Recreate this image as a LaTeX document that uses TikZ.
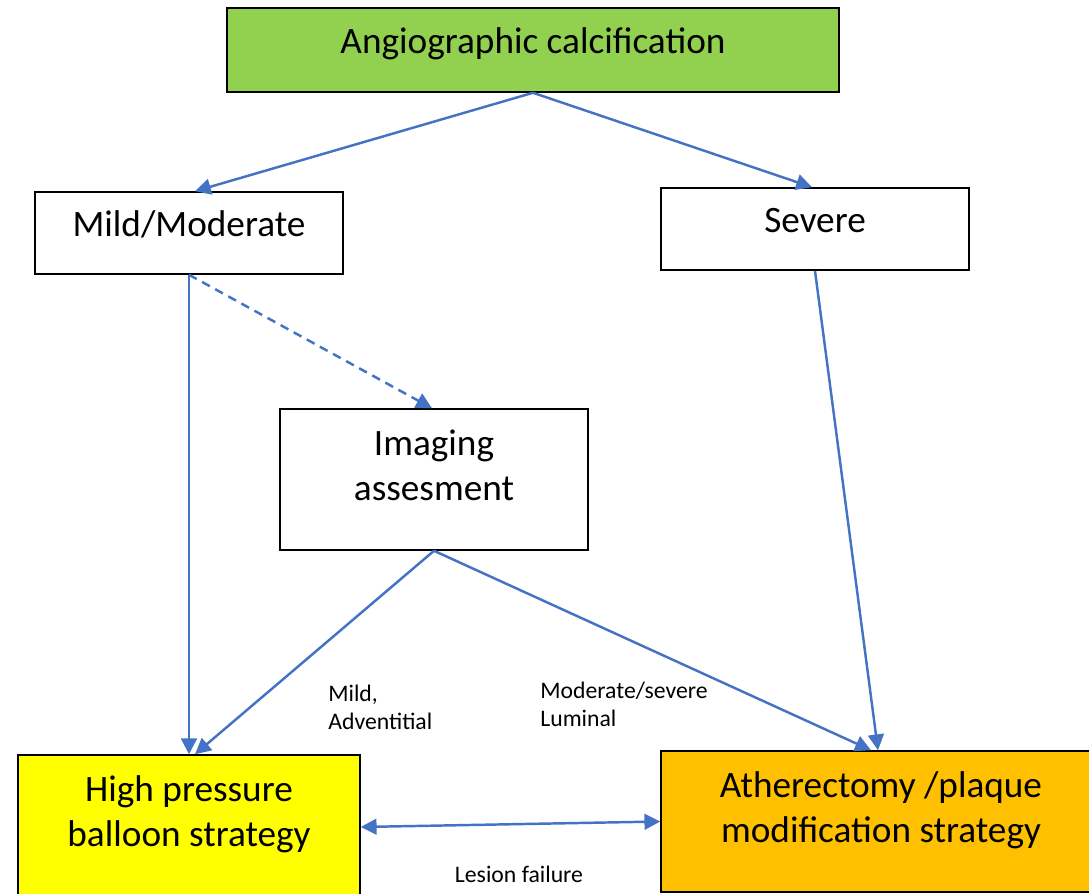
\documentclass[tikz,border=0pt]{standalone}
\usepackage{fontspec}
\setmainfont{Carlito}
\usetikzlibrary{arrows.meta}
\definecolor{calcgreen}{HTML}{92D050}
\definecolor{balloonyellow}{HTML}{FFFF00}
\definecolor{atheroorange}{HTML}{FFC000}
\definecolor{flowblue}{HTML}{4472C4}
\newcommand{\cstack}[1]{\begin{tabular}[t]{@{}c@{}}#1\end{tabular}}
\newcommand{\lstack}[1]{\begin{tabular}[t]{@{}l@{}}#1\end{tabular}}

\begin{document}
\begin{tikzpicture}[x=0.02cm,y=-0.02cm,
    box/.style={draw=black,line width=0.9pt,inner sep=0pt},
    boxtext/.style={anchor=base,inner sep=0pt,font=\fontsize{21.2}{25.5}\selectfont},
    note/.style={anchor=base west,inner sep=0pt,font=\fontsize{13.5}{16.4}\selectfont},
    flow/.style={draw=flowblue,line width=1.4pt,-{Triangle[length=9pt,width=9pt]}}]
        \useasboundingbox (0,0) rectangle (1089,893);
        \clip (0,0) rectangle (1089,893);

        \node[box,fill=calcgreen,minimum width=12.24cm,minimum height=1.68cm] (calc) at (533,50) {};
        \node[box,minimum width=6.16cm,minimum height=1.64cm] (mild) at (189,233) {};
        \node[box,minimum width=6.16cm,minimum height=1.64cm] (severe) at (815,229) {};
        \node[box,minimum width=6.16cm,minimum height=2.82cm] (imaging) at (434,479.5) {};
        \node[box,fill=balloonyellow,minimum width=6.84cm,minimum height=2.88cm] (balloon) at (189,827) {};
        \node[box,fill=atheroorange,minimum width=8.8cm,minimum height=2.82cm] (athero) at (881,821.5) {};

        \node[boxtext] (calctxt) at ([yshift=-0.92cm]calc.north) {Angiographic calcification};
        \node[boxtext] (mildtxt) at ([yshift=-0.9cm]mild.north) {Mild/Moderate};
        \node[boxtext] (severetxt) at ([yshift=-0.9cm]severe.north) {Severe};
        \node[boxtext] (imagingtxt) at ([yshift=-0.94cm]imaging.north) {\cstack{Imaging\\assesment}};
        \node[boxtext] (balloontxt) at ([yshift=-0.95cm]balloon.north) {\cstack{High pressure\\balloon strategy}};
        \node[boxtext] (atherotxt) at ([yshift=-0.95cm]athero.north) {\cstack{Atherectomy /plaque\\modification strategy}};

        \draw[flow] (calc.south) to ([xshift=0.12cm]mild.north);
        \draw[flow] (calc.south) to ([xshift=-0.06cm]severe.north);
        \draw[flow] (mild.south) to (balloon.north);
        \draw[flow,dash pattern=on 5pt off 3.5pt] (mild.south) to ([xshift=-0.04cm]imaging.north);
        \draw[flow] (severe.south) to ([xshift=-0.06cm]athero.north);
        \draw[flow] (imaging.south) to ([xshift=0.12cm]balloon.north);
        \draw[flow] (imaging.south) to ([xshift=-0.2cm]athero.north);
        \draw[flow,{Triangle[length=9pt,width=9pt]}-{Triangle[length=9pt,width=9pt]}] (balloon.east) to (athero.west);

        \node[note] (adventitial) at (328,701) {\lstack{Mild,\\Adventitial}};
        \node[note] (luminal) at (540,698) {\lstack{Moderate/severe\\Luminal}};
        \node[note,anchor=base] (failure) at (519,882) {Lesion failure};
\end{tikzpicture}
\end{document}
